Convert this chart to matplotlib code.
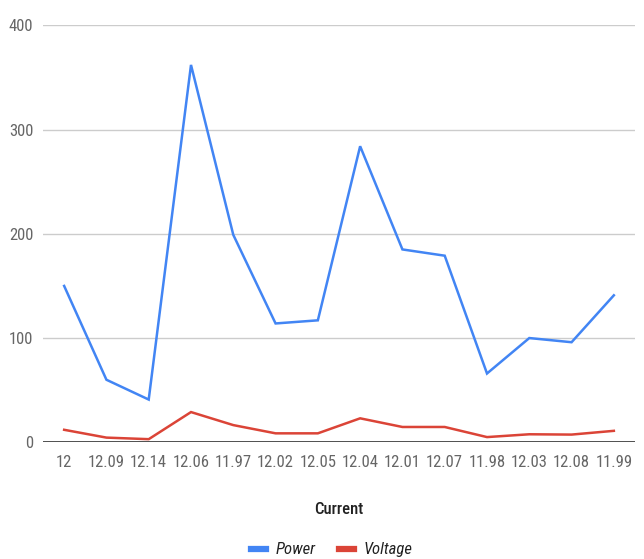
#! /usr/bin/env python3
# Power and voltage against current, Google-chart style line plot

import matplotlib

matplotlib.use("Agg")
import matplotlib.pyplot as plt
from matplotlib.lines import Line2D

current = ["12", "12.09", "12.14", "12.06", "11.97", "12.02", "12.05",
           "12.04", "12.01", "12.07", "11.98", "12.03", "12.08", "11.99"]
power = [150, 60, 41, 362, 199, 114, 117, 284, 185, 179, 66, 100, 96, 141]
voltage = [12, 4.5, 3, 29, 16.5, 8.6, 8.6, 23, 14.7, 14.7, 5, 7.7, 7.4, 11]

FONT = ["Roboto Condensed", "Liberation Sans Narrow", "Roboto", "DejaVu Sans"]
plt.rcParams["font.family"] = FONT

fig = plt.figure(figsize=(6.44, 5.59), dpi=100)
ax = fig.add_axes([43 / 644, 116.7 / 559, 592 / 644, 417 / 559])

x = list(range(len(current)))
ax.plot(x, power, color="#4285F4", lw=1.8, solid_joinstyle="miter")
ax.plot(x, voltage, color="#DB4437", lw=1.8, solid_joinstyle="miter")

ax.set_xlim(-0.5, len(current) - 0.5)
ax.set_ylim(0, 400)
ax.set_yticks([0, 100, 200, 300, 400])
ax.set_xticks(x)
ax.set_xticklabels(current)
ax.yaxis.grid(True, color="#cccccc", lw=1)
ax.axhline(0, color="#333333", lw=1.2, zorder=3)
for s in ax.spines.values():
    s.set_visible(False)
ax.tick_params(length=0, labelsize=12, labelcolor="#666666")
ax.tick_params(axis="x", pad=9)
ax.tick_params(axis="y", pad=7)
ax.set_axisbelow(True)

ax.set_xlabel("Current", fontsize=12, color="#222222", fontweight="medium", labelpad=23)

handles = [Line2D([], [], color="#4285F4", lw=4.5),
           Line2D([], [], color="#DB4437", lw=4.5)]
fig.legend(handles, ["Power", "Voltage"], loc="lower center",
           bbox_to_anchor=(0.515, -0.024), ncol=2, frameon=False,
           handlelength=0.9, handletextpad=0.6, columnspacing=1.4,
           prop={"size": 12, "style": "italic", "family": FONT},
           labelcolor="#222222")

fig.savefig("out.png", dpi=100)
